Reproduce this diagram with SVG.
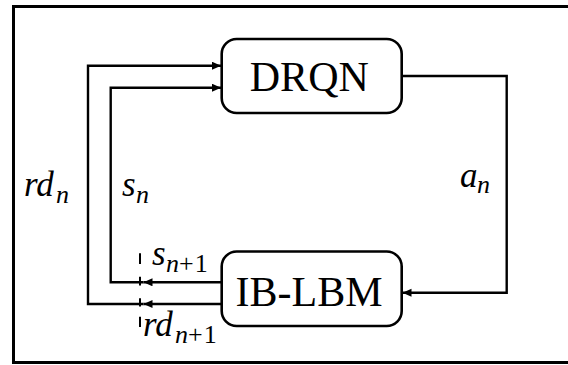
<svg xmlns="http://www.w3.org/2000/svg" width="568" height="365" viewBox="0 0 568 365">
<style>
.frame{fill:none;stroke:#000;stroke-width:3}
.box{fill:#fff;stroke:#000;stroke-width:2.6}
.lbl{font-family:"Liberation Serif","Times New Roman",serif;font-size:42px;fill:#000;text-anchor:middle}
.math{font-family:"Liberation Serif","Times New Roman",serif;font-style:italic;font-size:35px;fill:#000}
.sub{font-size:26px}
.up{font-style:normal;letter-spacing:1px}
.wire{fill:none;stroke:#000;stroke-width:2.4}
.dash{fill:none;stroke:#000;stroke-width:2}
</style>
<defs>
<marker id="arr" markerUnits="userSpaceOnUse" markerWidth="10" markerHeight="10" refX="9" refY="4" orient="auto">
<path d="M0,0 L9,4 L0,8 Z" fill="#000"/>
</marker>
</defs>
<path class="frame" d="M568,6.5 H13.5 V362.5 H568"/>
<g id="connectors">
<path class="wire" d="M221.7,282.3 H143.5" marker-end="url(#arr)"/>
<path class="wire" d="M143.5,282.3 H110.7 V87.7 H221" marker-end="url(#arr)"/>
<path class="wire" d="M221.7,304 H143.5" marker-end="url(#arr)"/>
<path class="wire" d="M143.5,304 H88 V65.7 H221" marker-end="url(#arr)"/>
<path class="wire" d="M401.7,76 H506.7 V292.7 H402.5" marker-end="url(#arr)"/>
<path class="dash" d="M140,253.3 V264 M140,276.7 V285.5 M140,298.3 V306.5 M140,316.7 V327"/>
</g>
<g id="drqn">
<rect class="box" x="221.7" y="39" width="180" height="74" rx="15"/>
<text class="lbl" x="309.3" y="91">DRQN</text>
</g>
<g id="iblbm">
<rect class="box" x="221.7" y="251.5" width="180" height="74.5" rx="15"/>
<text class="lbl" x="309" y="305.5">IB-LBM</text>
</g>
<g id="labels">
<text class="math" x="24" y="196">rd<tspan class="sub" x="56" y="203">n</tspan></text>
<text class="math" x="122" y="196">s<tspan class="sub" x="136" y="203">n</tspan></text>
<text class="math" x="460" y="187">a<tspan class="sub" x="477" y="193">n</tspan></text>
<text class="math" x="152" y="265">s<tspan class="sub" x="166" y="272">n<tspan class="up">+1</tspan></tspan></text>
<text class="math" x="143" y="336">rd<tspan class="sub" x="175" y="343">n<tspan class="up">+1</tspan></tspan></text>
</g>
</svg>
